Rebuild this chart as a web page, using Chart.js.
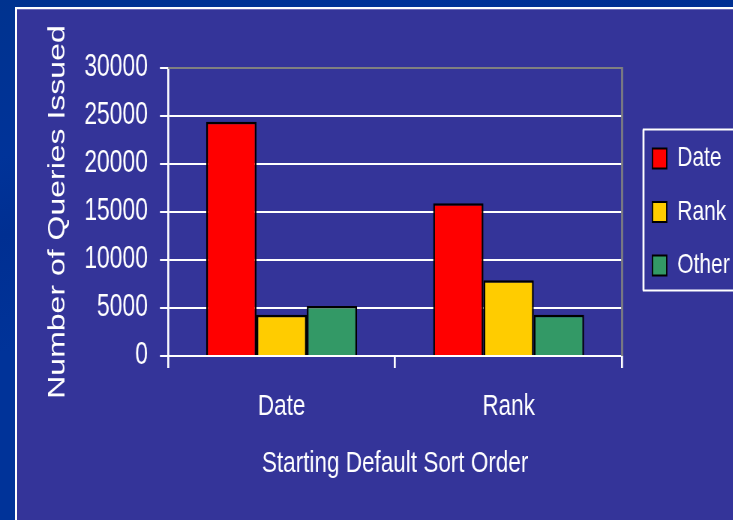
<!DOCTYPE html>
<html>
<head>
<meta charset="utf-8">
<script src="https://cdn.jsdelivr.net/npm/chart.js@4"></script>
<style>
  html, body { margin: 0; padding: 0; width: 733px; height: 520px; overflow: hidden; }
  body { background: linear-gradient(160deg, #00338f 0%, #003399 20%, #002f92 30%, #003399 45%, #003399 80%, #002f90 88%, #003399 100%); position: relative; }
  #frame { position: absolute; left: 15px; top: 7px; width: 760px; height: 560px; border-top: 2px solid #ffffff; border-left: 2px solid #ffffff; background: #343499; box-shadow: inset 0 1px 0 #6a6ab8; }
  #wrap { position: absolute; left: 0; top: 0; width: 983px; height: 520px; transform: scaleX(0.75); transform-origin: 0 0; }
</style>
</head>
<body>
<div id="frame"></div>
<div id="wrap"><canvas id="c"></canvas></div>
<script>
const categories = ['Date', 'Rank'];
const seriesNames = ['Date', 'Rank', 'Other'];
const dateValues = [24400, 15900];
const rankValues = [4300, 7900];
const otherValues = [5200, 4300];
const yTicks = [0, 5000, 10000, 15000, 20000, 25000, 30000];
const yTitle = 'Number of Queries Issued';
const xTitle = 'Starting Default Sort Order';

const sans = '"Liberation Sans", Arial, sans-serif';

// small layout spacer between plot area and legend
const legendGap = {
  id: 'legendGap',
  beforeInit(chart) {
    Chart.layouts.addBox(chart, {
      position: 'right', weight: 500, fullSize: false,
      options: { display: false },
      left: 0, top: 0, right: 0, bottom: 0, width: 0, height: 0,
      isHorizontal() { return false; },
      update(maxWidth, maxHeight) { this.width = 15; this.height = maxHeight; return this.width; },
      draw() {}
    });
  }
};

const frameBits = {
  id: 'frameBits',
  beforeDatasetsDraw(chart) {
    const {ctx, chartArea: a} = chart;
    ctx.save();
    ctx.strokeStyle = '#808080';
    ctx.lineWidth = 2;
    ctx.beginPath();
    ctx.moveTo(a.left, a.top);
    ctx.lineTo(a.right, a.top);
    ctx.stroke();
    ctx.lineWidth = 2.7;
    ctx.beginPath();
    ctx.moveTo(a.right, a.top - 1);
    ctx.lineTo(a.right, a.bottom);
    ctx.stroke();
    ctx.restore();
  },
  afterDraw(chart) {
    const lg = chart.legend;
    if (!lg || !lg.legendHitBoxes || !lg.legendHitBoxes.length) return;
    const hb = lg.legendHitBoxes;
    const first = hb[0], last = hb[hb.length - 1];
    const ctx = chart.ctx;
    ctx.save();
    ctx.strokeStyle = '#ffffff';
    ctx.lineWidth = 2;
    const x0 = first.left - 12;
    const y0 = first.top - 15;
    const y1 = last.top + last.height + 11;
    ctx.strokeRect(x0, y0, chart.width + 20 - x0, y1 - y0);
    ctx.beginPath();
    ctx.lineWidth = 2.7;
    ctx.moveTo(x0, y0);
    ctx.lineTo(x0, y1);
    ctx.stroke();
    ctx.restore();
  }
};

new Chart(document.getElementById('c'), {
  type: 'bar',
  data: {
    labels: categories,
    datasets: [
      { label: seriesNames[0], data: dateValues, backgroundColor: '#ff0000' },
      { label: seriesNames[1], data: rankValues, backgroundColor: '#ffcc00' },
      { label: seriesNames[2], data: otherValues, backgroundColor: '#339966' }
    ]
  },
  options: {
    responsive: true,
    maintainAspectRatio: false,
    animation: false,
    datasets: {
      bar: {
        borderColor: '#000000',
        borderWidth: { left: 2.4, right: 2.4, top: 2.5, bottom: 0 },
        borderSkipped: false,
        categoryPercentage: 0.665,
        barPercentage: 1.0
      }
    },
    layout: { padding: { left: 18, top: 68, right: 0, bottom: 38 } },
    plugins: {
      legend: {
        position: 'right',
        fullSize: false,
        labels: {
          color: '#ffffff',
          font: { family: sans, size: 28 },
          boxWidth: 19,
          boxHeight: 20,
          padding: 25.5
        }
      },
      tooltip: { enabled: false }
    },
    scales: {
      x: {
        grid: {
          drawOnChartArea: false,
          drawTicks: true,
          tickLength: 12,
          color: '#ffffff',
          lineWidth: 2.7
        },
        border: { color: '#ffffff', width: 2 },
        ticks: { color: '#ffffff', font: { family: sans, size: 30 }, padding: 21 },
        title: {
          display: true,
          text: xTitle,
          color: '#ffffff',
          font: { family: sans, size: 30 },
          padding: { top: 0, bottom: 0 }
        }
      },
      y: {
        min: 0,
        max: 30000,
        afterBuildTicks(scale) { scale.ticks = yTicks.map(v => ({ value: v })); },
        grid: {
          color: c => (c.tick && c.tick.value === 30000) ? '#808080' : '#ffffff',
          lineWidth: 2,
          tickColor: '#ffffff',
          tickWidth: 2,
          tickLength: 11
        },
        border: { color: '#ffffff', width: 2.7 },
        ticks: {
          color: '#ffffff',
          font: { family: sans, size: 30.5 },
          padding: 16,
          callback: v => String(v)
        },
        title: {
          display: true,
          text: yTitle,
          color: '#ffffff',
          font: { family: sans, size: 32 },
          padding: { top: 40, bottom: 0 }
        }
      }
    }
  },
  plugins: [legendGap, frameBits]
});
</script>
</body>
</html>
